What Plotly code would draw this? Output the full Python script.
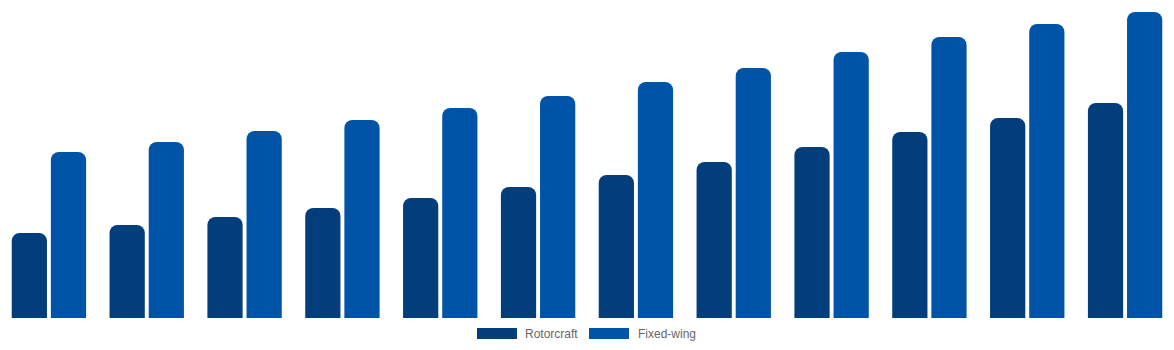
import plotly.graph_objects as go

categories = [str(y) for y in range(2013, 2025)]
rotorcraft = [85, 93, 101, 110, 120, 131, 143, 156, 171, 186, 200, 215]
fixed_wing = [166, 176, 187, 198, 210, 222, 236, 250, 266, 281, 294, 306]
series_names = ["Rotorcraft", "Fixed-wing"]
colors = ["#023d7c", "#0054a7"]

W, H = 1174, 350
mb = 32
plot_h = H - mb

fig = go.Figure()
fig.add_trace(go.Bar(x=categories, y=rotorcraft, name=series_names[0],
                     marker=dict(color=colors[0], line=dict(width=0)), showlegend=False))
fig.add_trace(go.Bar(x=categories, y=fixed_wing, name=series_names[1],
                     marker=dict(color=colors[1], line=dict(width=0)), showlegend=False))

# custom legend (wide swatches) below the plot
def py(px):
    return (plot_h - px) / plot_h

legend_items = [(477, 523, series_names[0], colors[0]), (589, 636, series_names[1], colors[1])]
for sx, tx, name, col in legend_items:
    fig.add_shape(type="rect", xref="paper", yref="paper",
                  x0=sx / W, x1=(sx + 40) / W, y0=py(339), y1=py(328),
                  fillcolor=col, line=dict(width=0))
    fig.add_annotation(xref="paper", yref="paper", x=tx / W, y=py(333.5),
                       text=name, showarrow=False, xanchor="left", yanchor="middle",
                       font=dict(family="Liberation Sans, Arial", size=12, color="#666666"))

fig.update_layout(
    width=W, height=H,
    margin=dict(l=0, r=0, t=0, b=mb),
    barmode="group", bargap=0.2, bargroupgap=0.1, barcornerradius=8,
    plot_bgcolor="white", paper_bgcolor="white",
    xaxis=dict(visible=False, showgrid=False),
    yaxis=dict(visible=False, showgrid=False, range=[0, plot_h]),
    showlegend=False,
)

fig.write_html("out.html")
